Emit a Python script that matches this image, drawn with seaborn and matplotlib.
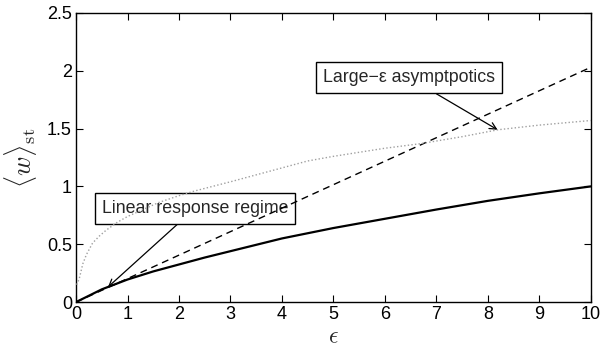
import matplotlib
matplotlib.use("Agg")
import matplotlib.pyplot as plt
import seaborn as sns
import pandas as pd

# Data
eps_solid = [0, 0.5, 1, 1.5, 2, 2.5, 3, 4, 5, 6, 7, 8, 9, 10]
w_solid = [0, 0.11, 0.195, 0.265, 0.325, 0.385, 0.44, 0.55, 0.64, 0.72, 0.80, 0.875, 0.94, 1.0]

eps_linear = [0, 10]
w_linear = [0, 2.03]

eps_large = [0.01, 0.06, 0.13, 0.2, 0.32, 0.45, 0.58, 0.8, 1.0, 1.3, 1.6, 2.0, 2.3,
             3.0, 3.5, 4.0, 4.5, 5.0, 6.0, 6.7, 7.5, 8.2, 9.0, 10.0]
w_large = [0.15, 0.2, 0.33, 0.41, 0.51, 0.57, 0.62, 0.69, 0.74, 0.80, 0.86, 0.92, 0.96,
           1.04, 1.10, 1.16, 1.22, 1.26, 1.33, 1.37, 1.43, 1.49, 1.53, 1.57]

x_ticks = [0, 1, 2, 3, 4, 5, 6, 7, 8, 9, 10]
y_ticks = [0, 0.5, 1, 1.5, 2, 2.5]
y_tick_labels = ["0", "0.5", "1", "1.5", "2", "2.5"]

label_linear = "Linear response regime"
label_large = "Large\u2212\u03b5 asymptpotics"

sns.set_style("ticks", {"xtick.direction": "in", "ytick.direction": "in"})
plt.rcParams["font.family"] = ["Liberation Sans", "DejaVu Sans"]
plt.rcParams["mathtext.fontset"] = "cm"

fig = plt.figure(figsize=(6.04, 3.5), dpi=100)
ax = fig.add_axes([0.126, 0.137, 0.852, 0.826])

df_s = pd.DataFrame({"eps": eps_solid, "w": w_solid})
df_l = pd.DataFrame({"eps": eps_linear, "w": w_linear})
df_g = pd.DataFrame({"eps": eps_large, "w": w_large})

sns.lineplot(data=df_g, x="eps", y="w", ax=ax, color="#a0a0a0", linewidth=1.0,
             linestyle=(0, (1, 1.6)), zorder=6)
sns.lineplot(data=df_l, x="eps", y="w", ax=ax, color="black", linewidth=1.0,
             linestyle=(0, (5, 3.5)), zorder=4)
sns.lineplot(data=df_s, x="eps", y="w", ax=ax, color="black", linewidth=1.6, zorder=4)

ax.set_xlim(0, 10)
ax.set_ylim(0, 2.5)
ax.set_xticks(x_ticks)
ax.set_yticks(y_ticks)
ax.set_yticklabels(y_tick_labels)
ax.tick_params(axis="both", which="both", direction="in", length=5, width=0.8,
               labelsize=13, top=True, right=True, colors="black", pad=3)
for s in ax.spines.values():
    s.set_visible(True)
    s.set_linewidth(1.0)
    s.set_color("black")

ax.set_xlabel(r"$\epsilon$", fontsize=17, labelpad=2)
ax.set_ylabel(r"$\langle w\rangle_{\rm st}$", fontsize=19, labelpad=6)

bbox = dict(boxstyle="square,pad=0.4", fc="white", ec="black", lw=1.0)
ax.annotate(label_linear, xy=(0.62, 0.13), xytext=(2.31, 0.81),
            fontsize=12.8, ha="center", va="center", bbox=bbox, zorder=3,
            arrowprops=dict(arrowstyle="->", color="black", lw=0.9,
                            shrinkA=0, shrinkB=0, mutation_scale=12))
ax.annotate(label_large, xy=(8.19, 1.49), xytext=(6.47, 1.94),
            fontsize=12.8, ha="center", va="center", bbox=bbox, zorder=3,
            arrowprops=dict(arrowstyle="->", color="black", lw=0.9,
                            shrinkA=0, shrinkB=0, mutation_scale=12))

fig.savefig("out.png", dpi=100)
